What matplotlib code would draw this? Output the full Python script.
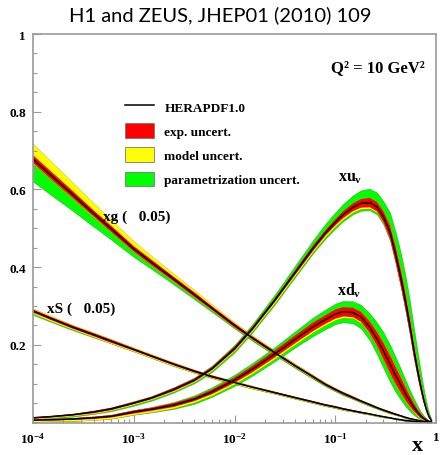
"""HERAPDF1.0 parton distributions at Q2 = 10 GeV2 with uncertainty bands."""

import matplotlib
matplotlib.use("Agg")
import matplotlib.pyplot as plt
from matplotlib.lines import Line2D
from matplotlib.patches import Patch
from matplotlib.ticker import FixedLocator, MultipleLocator, LogLocator, NullFormatter

plt.rcParams["font.family"] = "Liberation Serif"
plt.rcParams["font.weight"] = "bold"
plt.rcParams["mathtext.fontset"] = "custom"
plt.rcParams["mathtext.rm"] = "Liberation Serif:bold"
plt.rcParams["mathtext.it"] = "Liberation Serif:bold"
plt.rcParams["mathtext.bf"] = "Liberation Serif:bold"

# =============================================================================
# Data (xg and xS are scaled by 0.05)
X = [1e-4, 1.5e-4, 2.5e-4, 4e-4, 6e-4, 1e-3, 1.5e-3, 2.5e-3, 4e-3, 6e-3,
     1e-2, 1.5e-2, 2.5e-2, 4e-2, 6e-2, 8e-2, 0.1, 0.12, 0.15, 0.18,
     0.22, 0.26, 0.3, 0.35, 0.4, 0.45, 0.5, 0.55, 0.6, 0.65,
     0.7, 0.75, 0.8, 0.85, 0.9]

# gluon (x 0.05)
XG = [0.678, 0.637, 0.586, 0.538, 0.498, 0.447, 0.412, 0.369, 0.329, 0.294,
      0.250, 0.218, 0.180, 0.146, 0.118, 0.098, 0.085, 0.075, 0.064, 0.055,
      0.046, 0.038, 0.032, 0.026, 0.021, 0.017, 0.013, 0.010, 0.008, 0.006,
      0.004, 0.003, 0.002, 0.001, 0.0]
XG_EXP = [0.010, 0.010, 0.009, 0.008, 0.008, 0.007, 0.007, 0.006, 0.006, 0.005,
          0.005, 0.004, 0.004, 0.003, 0.003, 0.003, 0.003, 0.003, 0.003, 0.002,
          0.002, 0.002, 0.002, 0.002, 0.002, 0.001, 0.001, 0.001, 0.001, 0.001,
          0.001, 0.001, 0.001, 0.0, 0.0]
XG_MOD_UP = [0.040, 0.036, 0.031, 0.027, 0.023, 0.020, 0.017, 0.014, 0.012, 0.010,
             0.008, 0.007, 0.006, 0.006, 0.005, 0.005, 0.004, 0.004, 0.004, 0.003,
             0.003, 0.003, 0.003, 0.002, 0.002, 0.002, 0.002, 0.001, 0.001, 0.001,
             0.001, 0.001, 0.001, 0.0, 0.0]
XG_MOD_DN = [0.012, 0.011, 0.010, 0.010, 0.009, 0.008, 0.008, 0.007, 0.007, 0.006,
             0.006, 0.005, 0.005, 0.004, 0.004, 0.003, 0.003, 0.003, 0.003, 0.003,
             0.002, 0.002, 0.002, 0.002, 0.002, 0.001, 0.001, 0.001, 0.001, 0.001,
             0.001, 0.001, 0.001, 0.0, 0.0]
XG_PAR_UP = XG_MOD_DN
XG_PAR_DN = [0.058, 0.051, 0.042, 0.034, 0.028, 0.021, 0.017, 0.014, 0.012, 0.010,
             0.008, 0.008, 0.007, 0.006, 0.006, 0.005, 0.005, 0.005, 0.004, 0.004,
             0.004, 0.003, 0.003, 0.003, 0.002, 0.002, 0.002, 0.002, 0.001, 0.001,
             0.001, 0.001, 0.001, 0.0, 0.0]

# sea (x 0.05)
XS = [0.287, 0.268, 0.245, 0.226, 0.209, 0.188, 0.171, 0.150, 0.132, 0.118,
      0.103, 0.091, 0.077, 0.064, 0.053, 0.045, 0.040, 0.035, 0.030, 0.026,
      0.022, 0.018, 0.015, 0.012, 0.009, 0.007, 0.005, 0.004, 0.003, 0.002,
      0.001, 0.001, 0.0, 0.0, 0.0]
XS_EXP = [0.004, 0.004, 0.004, 0.004, 0.004, 0.003, 0.003, 0.003, 0.003, 0.003,
          0.002, 0.002, 0.002, 0.002, 0.002, 0.002, 0.002, 0.002, 0.002, 0.002,
          0.001, 0.001, 0.001, 0.001, 0.001, 0.001, 0.001, 0.001, 0.0, 0.0,
          0.0, 0.0, 0.0, 0.0, 0.0]
XS_MOD = [0.007, 0.007, 0.006, 0.006, 0.006, 0.005, 0.005, 0.005, 0.004, 0.004,
          0.004, 0.004, 0.003, 0.003, 0.003, 0.003, 0.003, 0.003, 0.002, 0.002,
          0.002, 0.002, 0.002, 0.001, 0.001, 0.001, 0.001, 0.001, 0.0, 0.0,
          0.0, 0.0, 0.0, 0.0, 0.0]
XS_PAR_DN = [0.010, 0.009, 0.008, 0.007, 0.006, 0.005, 0.005, 0.005, 0.004, 0.004,
             0.004, 0.004, 0.003, 0.003, 0.003, 0.003, 0.003, 0.003, 0.002, 0.002,
             0.002, 0.002, 0.002, 0.001, 0.001, 0.001, 0.001, 0.001, 0.0, 0.0,
             0.0, 0.0, 0.0, 0.0, 0.0]

# u valence
XUV = [0.012, 0.015, 0.020, 0.027, 0.035, 0.050, 0.063, 0.085, 0.109, 0.139,
       0.190, 0.241, 0.314, 0.386, 0.448, 0.488, 0.515, 0.535, 0.554, 0.564,
       0.566, 0.555, 0.530, 0.490, 0.430, 0.370, 0.310, 0.250, 0.190, 0.140,
       0.098, 0.062, 0.035, 0.016, 0.005]
XUV_EXP = [0.002, 0.002, 0.002, 0.003, 0.003, 0.003, 0.003, 0.004, 0.004, 0.004,
           0.005, 0.005, 0.005, 0.006, 0.007, 0.007, 0.008, 0.009, 0.010, 0.011,
           0.012, 0.012, 0.014, 0.017, 0.020, 0.021, 0.021, 0.020, 0.018, 0.015,
           0.012, 0.009, 0.006, 0.003, 0.001]
XUV_MOD_DN = [0.003, 0.003, 0.003, 0.004, 0.004, 0.004, 0.004, 0.005, 0.005, 0.005,
              0.006, 0.006, 0.007, 0.008, 0.009, 0.010, 0.011, 0.012, 0.013, 0.014,
              0.015, 0.015, 0.017, 0.020, 0.023, 0.024, 0.024, 0.023, 0.021, 0.018,
              0.015, 0.011, 0.008, 0.004, 0.001]
XUV_PAR_UP = [0.002, 0.002, 0.003, 0.003, 0.004, 0.005, 0.005, 0.006, 0.007, 0.008,
              0.010, 0.012, 0.015, 0.018, 0.021, 0.024, 0.026, 0.028, 0.031, 0.034,
              0.036, 0.037, 0.040, 0.050, 0.058, 0.064, 0.066, 0.064, 0.058, 0.050,
              0.040, 0.030, 0.020, 0.010, 0.004]
XUV_PAR_DN = [0.004, 0.004, 0.005, 0.005, 0.006, 0.007, 0.007, 0.008, 0.008, 0.009,
              0.010, 0.010, 0.011, 0.012, 0.013, 0.015, 0.016, 0.017, 0.018, 0.019,
              0.020, 0.020, 0.020, 0.022, 0.024, 0.025, 0.025, 0.024, 0.022, 0.018,
              0.014, 0.010, 0.007, 0.004, 0.001]

# d valence
XDV = [0.006, 0.007, 0.009, 0.012, 0.016, 0.027, 0.034, 0.045, 0.060, 0.079,
       0.109, 0.137, 0.176, 0.214, 0.246, 0.265, 0.279, 0.285, 0.283, 0.272,
       0.245, 0.215, 0.185, 0.150, 0.120, 0.095, 0.073, 0.055, 0.040, 0.028,
       0.018, 0.011, 0.006, 0.003, 0.001]
XDV_EXP = [0.002, 0.002, 0.002, 0.003, 0.003, 0.004, 0.004, 0.005, 0.005, 0.006,
           0.007, 0.008, 0.009, 0.010, 0.011, 0.011, 0.012, 0.012, 0.012, 0.013,
           0.015, 0.018, 0.021, 0.023, 0.022, 0.020, 0.017, 0.014, 0.011, 0.008,
           0.006, 0.004, 0.003, 0.001, 0.0]
XDV_MOD_UP = [0.003, 0.003, 0.003, 0.004, 0.004, 0.005, 0.005, 0.006, 0.006, 0.007,
              0.008, 0.009, 0.010, 0.011, 0.012, 0.012, 0.013, 0.013, 0.013, 0.014,
              0.016, 0.019, 0.022, 0.024, 0.023, 0.021, 0.018, 0.015, 0.012, 0.009,
              0.007, 0.005, 0.003, 0.001, 0.0]
XDV_MOD_DN = [0.004, 0.004, 0.005, 0.006, 0.006, 0.007, 0.007, 0.008, 0.008, 0.009,
              0.010, 0.011, 0.012, 0.013, 0.014, 0.014, 0.015, 0.015, 0.015, 0.016,
              0.018, 0.021, 0.024, 0.026, 0.025, 0.023, 0.020, 0.017, 0.014, 0.011,
              0.008, 0.006, 0.004, 0.002, 0.001]
XDV_PAR_UP = [0.002, 0.002, 0.003, 0.003, 0.004, 0.005, 0.006, 0.008, 0.010, 0.012,
              0.014, 0.016, 0.018, 0.021, 0.024, 0.026, 0.027, 0.028, 0.029, 0.031,
              0.036, 0.042, 0.048, 0.050, 0.047, 0.042, 0.036, 0.029, 0.023, 0.017,
              0.012, 0.008, 0.005, 0.002, 0.001]
XDV_PAR_DN = [0.004, 0.004, 0.005, 0.005, 0.006, 0.007, 0.008, 0.010, 0.012, 0.013,
              0.015, 0.017, 0.019, 0.021, 0.024, 0.025, 0.026, 0.027, 0.028, 0.030,
              0.034, 0.040, 0.045, 0.046, 0.043, 0.038, 0.032, 0.026, 0.020, 0.015,
              0.011, 0.007, 0.004, 0.002, 0.001]

# central, exp, model up, model down, param up, param down
PDFS = [
    (XG, XG_EXP, XG_MOD_UP, XG_MOD_DN, XG_PAR_UP, XG_PAR_DN),
    (XS, XS_EXP, XS_MOD, XS_MOD, XS_EXP, XS_PAR_DN),
    (XUV, XUV_EXP, XUV_EXP, XUV_MOD_DN, XUV_PAR_UP, XUV_PAR_DN),
    (XDV, XDV_EXP, XDV_MOD_UP, XDV_MOD_DN, XDV_PAR_UP, XDV_PAR_DN),
]

RED, YELLOW, GREEN = "#ff0000", "#ffff00", "#00ff00"
AXIS_GREY = "#9a9a9a"
EDGE = (0.15, 0.2, 0.0, 0.55)

# =============================================================================
# Plot
fig = plt.figure(figsize=(4.41, 4.56), dpi=100)
ax = fig.add_axes([33 / 441, 1 - 423.5 / 456, 403 / 441, 388.5 / 456])

for cen, exp, mod_up, mod_dn, par_up, par_dn in PDFS:
    green_lo = [c - d for c, d in zip(cen, par_dn)]
    green_hi = [c + u for c, u in zip(cen, par_up)]
    yellow_lo = [c - d for c, d in zip(cen, mod_dn)]
    yellow_hi = [c + u for c, u in zip(cen, mod_up)]
    red_lo = [c - e for c, e in zip(cen, exp)]
    red_hi = [c + e for c, e in zip(cen, exp)]
    ax.fill_between(X, green_lo, green_hi, facecolor=GREEN, edgecolor=EDGE, lw=0.3)
    ax.fill_between(X, yellow_lo, yellow_hi, facecolor=YELLOW, edgecolor=EDGE, lw=0.2)
    ax.fill_between(X, red_lo, red_hi, facecolor=RED, edgecolor="none")
    ax.plot(X, cen, color="black", lw=1.1)

ax.set_xscale("log")
ax.set_xlim(1e-4, 1)
ax.set_ylim(0, 1)

ax.xaxis.set_major_locator(FixedLocator([1e-4, 1e-3, 1e-2, 1e-1, 1]))
ax.xaxis.set_minor_locator(LogLocator(base=10, subs=range(2, 10)))
ax.xaxis.set_minor_formatter(NullFormatter())
ax.set_xticklabels([r"$10^{-4}$", r"$10^{-3}$", r"$10^{-2}$", r"$10^{-1}$", "1"])

ax.yaxis.set_major_locator(FixedLocator([0.2, 0.4, 0.6, 0.8, 1.0]))
ax.yaxis.set_minor_locator(MultipleLocator(0.05))
ax.set_yticklabels(["0.2", "0.4", "0.6", "0.8", "1"])

ax.tick_params(which="both", direction="in", color=AXIS_GREY, labelsize=9.5)
ax.tick_params(which="major", length=6, width=0.8)
ax.tick_params(which="minor", length=3, width=0.8)
ax.tick_params(axis="x", pad=6)
ax.tick_params(axis="y", pad=5)
for spine in ax.spines.values():
    spine.set_color(AXIS_GREY)
    spine.set_linewidth(1.2)

# Legend
handles = [
    Line2D([], [], color="black", lw=1.1),
    Patch(facecolor=RED, edgecolor="#777777", lw=0.6),
    Patch(facecolor=YELLOW, edgecolor="#777777", lw=0.6),
    Patch(facecolor=GREEN, edgecolor="#777777", lw=0.6),
]
labels = ["HERAPDF1.0", "exp. uncert.", "model uncert.", "parametrization uncert."]
ax.legend(handles, labels, loc="upper left", bbox_to_anchor=(0.228, 0.832),
          frameon=False, fontsize=9.5, handlelength=2.2, handleheight=1.3,
          handletextpad=0.8, labelspacing=0.72, borderpad=0, borderaxespad=0)

# Annotations
ax.text(0.856, 0.915, "Q² = 10 GeV²", transform=ax.transAxes, fontsize=12,
        ha="center", va="center")
ax.text(0.174, 0.532, "xg (   0.05)", transform=ax.transAxes, fontsize=11,
        ha="left", va="center")
ax.text(0.035, 0.295, "xS (   0.05)", transform=ax.transAxes, fontsize=11,
        ha="left", va="center")
ax.text(0.787, 0.633, r"$xu_v$", transform=ax.transAxes, fontsize=11.5,
        ha="center", va="center")
ax.text(0.785, 0.342, r"$xd_v$", transform=ax.transAxes, fontsize=11.5,
        ha="center", va="center")
ax.text(0.955, -0.058, "x", transform=ax.transAxes, fontsize=16,
        ha="center", va="center")

fig.text(0.5, 0.967, "H1 and ZEUS, JHEP01 (2010) 109", family="Lato",
         weight="normal", fontsize=14.5, ha="center", va="center")

fig.savefig("out.png", dpi=100)
